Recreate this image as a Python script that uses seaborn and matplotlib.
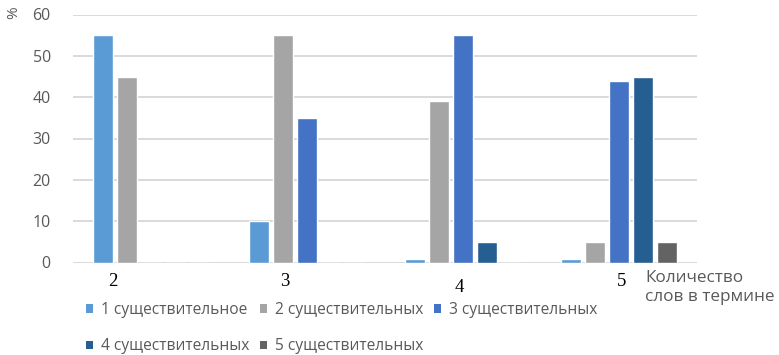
import matplotlib
matplotlib.use("Agg")
import matplotlib.pyplot as plt
import seaborn as sns
import pandas as pd
from matplotlib.patches import Patch
from matplotlib.transforms import blended_transform_factory

# Share of terms by number of nouns, grouped by term length in words
groups = ["2", "3", "4", "5"]
series = ["1 существительное", "2 существительных", "3 существительных",
          "4 существительных", "5 существительных"]
values = {
    "1 существительное": [55, 10, 0.8, 0.8],
    "2 существительных": [45, 55, 39, 5],
    "3 существительных": [0, 35, 55, 44],
    "4 существительных": [0, 0, 5, 45],
    "5 существительных": [0, 0, 0, 5],
}
colors = ["#5B9BD5", "#A5A5A5", "#4472C4", "#255E91", "#636363"]
y_ticks = [0, 10, 20, 30, 40, 50, 60]
x_title = "Количество\nслов в термине"
y_title = "%"

rows = []
for s in series:
    for g, v in zip(groups, values[s]):
        rows.append({"group": g, "series": s, "value": v})
df = pd.DataFrame(rows)

sns.set_theme(style="white")
plt.rcParams["font.family"] = ["Open Sans", "DejaVu Sans"]

fig = plt.figure(figsize=(7.79, 3.55), dpi=100)
ax = fig.add_axes([73 / 779, 1 - 262.5 / 355, (697 - 73) / 779, (262.5 - 14.5) / 355])

sns.barplot(data=df, x="group", y="value", hue="series", order=groups,
            hue_order=series, palette=colors, width=0.77, gap=0.2,
            saturation=1, ax=ax, legend=True, errorbar=None)

ax.set_ylim(0, 60)
ax.set_xlim(-0.5, 3.5)
ax.set_yticks(y_ticks)
ax.yaxis.grid(True, color="#D9D9D9", linewidth=1.4)
ax.set_axisbelow(True)
for sp in ax.spines.values():
    sp.set_visible(False)
ax.tick_params(axis="y", length=0, pad=16, labelsize=11.5, labelcolor="#595959")
ax.tick_params(axis="x", length=0)
ax.set_xticklabels([])
ax.set_xlabel("")
ax.set_ylabel("")

# category labels set as loose text boxes below the axis
fig_tr = blended_transform_factory(ax.transData, fig.transFigure)
label_pos = [(-0.244, 282), (0.859, 282), (1.974, 288), (3.019, 281)]
for g, (xd, ypx) in zip(groups, label_pos):
    fig.text(xd, 1 - ypx / 355, g, transform=fig_tr, ha="center", va="center",
             fontsize=13.5, color="black", family=["Liberation Serif", "DejaVu Serif"])

fig.text(645 / 779, 1 - 287.5 / 355, x_title, ha="left", va="center",
         fontsize=12.3, color="#595959", linespacing=1.3)
fig.text(14 / 779, 1 - 13 / 355, y_title, rotation=90, ha="center", va="center",
         fontsize=11, color="#595959")

ax.get_legend().remove()
patches = [Patch(facecolor=c, edgecolor="none") for c in colors]
order = [0, 3, 1, 4, 2]
fig.legend([patches[i] for i in order], [series[i] for i in order],
           ncol=3, loc="upper left", bbox_to_anchor=(86 / 779, 1 - 302 / 355),
           frameon=False, fontsize=11.2, labelcolor="#595959",
           handlelength=0.45, handleheight=0.45, handletextpad=0.5,
           columnspacing=0.7, labelspacing=1.3, borderpad=0, borderaxespad=0)

fig.savefig("out.png", dpi=100)
